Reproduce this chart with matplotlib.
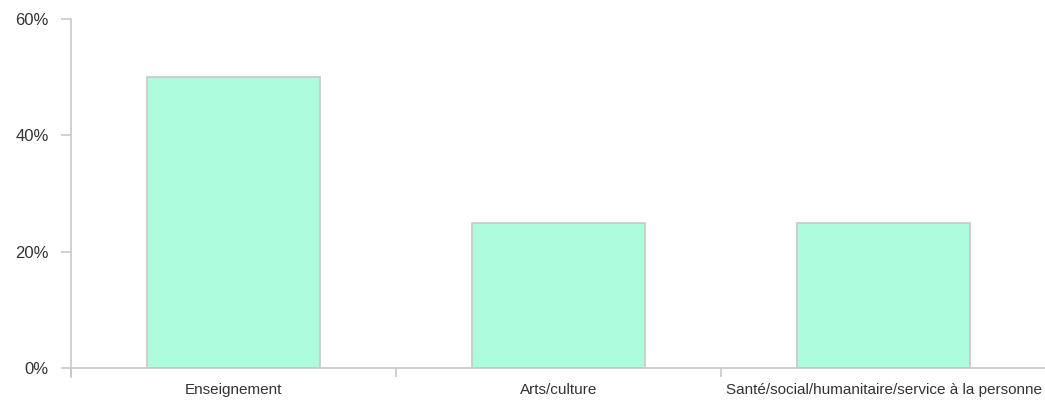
import matplotlib.pyplot as plt
from matplotlib.ticker import FixedLocator, PercentFormatter

# 資料
categories = ["Enseignement", "Arts/culture", "Santé/social/humanitaire/service à la personne"]
values = [50, 25, 25]
y_ticks = [0, 20, 40, 60]

plt.rcParams["font.family"] = ["Liberation Sans", "DejaVu Sans"]

fig = plt.figure(figsize=(10.45, 4), dpi=100)
ax = fig.add_axes([71 / 1045, 32 / 400, 975 / 1045, 349 / 400])

pos = [i + 0.5 for i in range(len(categories))]
ax.bar(pos, values, width=0.535, color="#adfcdb", edgecolor="#c8c8c8", linewidth=1.2, zorder=2)

ax.set_xlim(0, len(categories))
ax.set_ylim(0, 60)

grey = "#c8c8c8"
for s in ["top", "right"]:
    ax.spines[s].set_visible(False)
ax.spines["left"].set_color(grey)
ax.spines["bottom"].set_color(grey)
ax.spines["left"].set_linewidth(1.2)
ax.spines["bottom"].set_linewidth(1.2)
ax.spines["left"].set_bounds(-1.55, 60)

ax.set_yticks(y_ticks)
ax.yaxis.set_major_formatter(PercentFormatter(decimals=0))
ax.tick_params(axis="y", length=7, width=1.2, color=grey, labelcolor="#333333", labelsize=12, pad=9)

ax.set_xticks(pos)
ax.set_xticklabels(categories)
ax.xaxis.set_minor_locator(FixedLocator(list(range(len(categories)))))
ax.tick_params(axis="x", which="major", length=0, labelcolor="#333333", labelsize=11, pad=11)
ax.tick_params(axis="x", which="minor", length=6.5, width=1.2, color=grey)

fig.savefig("out.png", dpi=100)
